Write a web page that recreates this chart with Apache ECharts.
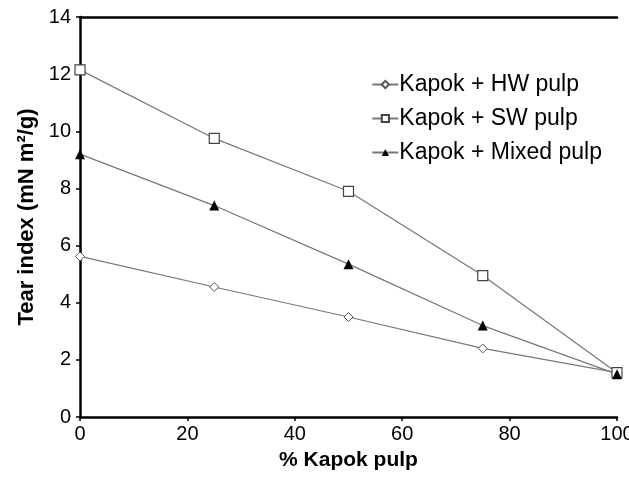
<!DOCTYPE html>
<html><head><meta charset="utf-8">
<script src="https://cdn.jsdelivr.net/npm/echarts@6/dist/echarts.min.js"></script>
<style>html,body{margin:0;padding:0;background:#fff}#c{width:629px;height:477px}</style>
</head><body><div id="c"></div>
<script>
const kapokPct = [0, 25, 50, 75, 100];
const hwPulp = [5.62, 4.55, 3.5, 2.4, 1.55];
const swPulp = [12.15, 9.75, 7.9, 4.95, 1.55];
const mixedPulp = [9.2, 7.4, 5.35, 3.2, 1.5];
const seriesNames = ['Kapok + HW pulp', 'Kapok + SW pulp', 'Kapok + Mixed pulp'];

const pairs = a => kapokPct.map((x, i) => [x, a[i]]);
const font = 'Liberation Sans, Arial, sans-serif';
const chart = echarts.init(document.getElementById('c'));
const lineStyle = { color: '#777', width: 1.2 };
chart.setOption({
  animation: false,
  grid: { left: 80, right: 12, top: 17, bottom: 60, outerBoundsMode: 'none', containLabel: false },
  legend: {
    orient: 'vertical', right: 22, top: 68, itemGap: 11,
    itemWidth: 26, itemHeight: 9,
    textStyle: { fontFamily: font, fontSize: 23, color: '#000', padding: [0, 0, 0, -4] },
    data: seriesNames
  },
  xAxis: [{
    type: 'value', min: 0, max: 100, interval: 20,
    name: '% Kapok pulp', nameLocation: 'middle', nameGap: 33,
    nameTextStyle: { fontFamily: font, fontSize: 21, fontWeight: 'bold', color: '#000' },
    axisLine: { lineStyle: { color: '#000', width: 2.5 } },
    axisTick: { show: true, length: 4, lineStyle: { color: '#000', width: 1.5 } },
    axisLabel: { fontFamily: font, fontSize: 20, color: '#000', margin: 7 },
    splitLine: { show: false }
  }, {
    type: 'value', position: 'top', min: 0, max: 100,
    axisLine: { show: true, lineStyle: { color: '#000', width: 2.5 } },
    axisTick: { show: false }, axisLabel: { show: false }, splitLine: { show: false }
  }],
  yAxis: {
    type: 'value', min: 0, max: 14, interval: 2,
    name: 'Tear index (mN m²/g)', nameLocation: 'middle', nameGap: 40,
    nameTextStyle: { fontFamily: font, fontSize: 22, fontWeight: 'bold', color: '#000' },
    axisLine: { show: true, lineStyle: { color: '#000', width: 2.5 } },
    axisTick: { show: true, length: 4, lineStyle: { color: '#000', width: 1.5 } },
    axisLabel: { fontFamily: font, fontSize: 20, color: '#000', margin: 9 },
    splitLine: { show: false }
  },
  series: [
    { name: seriesNames[0], type: 'line', data: pairs(hwPulp), symbol: 'diamond', symbolSize: 9,
      lineStyle, itemStyle: { color: '#fff', borderColor: '#555', borderWidth: 1 } },
    { name: seriesNames[1], type: 'line', data: pairs(swPulp), symbol: 'rect', symbolSize: 10,
      lineStyle, itemStyle: { color: '#fff', borderColor: '#444', borderWidth: 1.2 } },
    { name: seriesNames[2], type: 'line', data: pairs(mixedPulp), symbol: 'triangle', symbolSize: 10,
      lineStyle, itemStyle: { color: '#000', borderColor: '#000', borderWidth: 0 } }
  ]
});
</script></body></html>
